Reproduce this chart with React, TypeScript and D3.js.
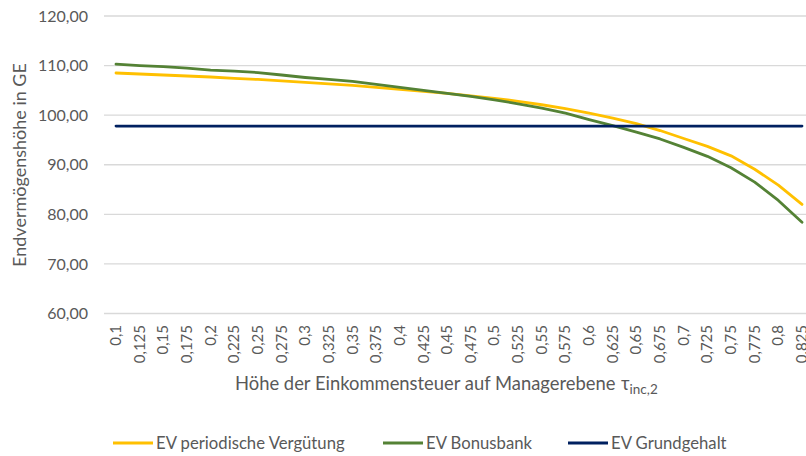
import React, { useLayoutEffect } from "react";
import * as d3 from "d3";

const categories: string[] = [
  "0,1", "0,125", "0,15", "0,175", "0,2", "0,225", "0,25", "0,275", "0,3", "0,325",
  "0,35", "0,375", "0,4", "0,425", "0,45", "0,475", "0,5", "0,525", "0,55", "0,575",
  "0,6", "0,625", "0,65", "0,675", "0,7", "0,725", "0,75", "0,775", "0,8", "0,825",
];

const evPeriodisch: number[] = [
  108.5, 108.3, 108.1, 107.9, 107.7, 107.4, 107.2, 106.9, 106.6, 106.3,
  106.0, 105.6, 105.2, 104.8, 104.4, 103.9, 103.4, 102.8, 102.1, 101.3,
  100.4, 99.4, 98.3, 96.9, 95.3, 93.7, 91.8, 89.1, 85.9, 82.0,
];

const evBonusbank: number[] = [
  110.3, 110.0, 109.8, 109.5, 109.1, 108.9, 108.6, 108.1, 107.6, 107.2,
  106.8, 106.2, 105.6, 105.0, 104.4, 103.8, 103.1, 102.3, 101.4, 100.4,
  99.1, 97.9, 96.6, 95.2, 93.5, 91.7, 89.4, 86.5, 82.8, 78.4,
];

const evGrundgehalt: number[] = categories.map(() => 97.8);

const yTicks: number[] = [60, 70, 80, 90, 100, 110, 120];

const seriesNames: string[] = ["EV periodische Vergütung", "EV Bonusbank", "EV Grundgehalt"];
const seriesColors: string[] = ["#FFC000", "#548235", "#002060"];

const W = 806;
const H = 456;
const FONT = "Lato, 'Open Sans', sans-serif";
const TEXT = "#595959";

export default function App() {
  useLayoutEffect(() => {
    document.body.style.margin = "0";
  }, []);

  const x = d3.scalePoint<string>().domain(categories).range([116, 802]);
  const y = d3.scaleLinear().domain([60, 120]).range([313.5, 16]);
  const fmt = (v: number) => d3.format(".2f")(v).replace(".", ",");

  const line = d3
    .line<number>()
    .x((_, i) => x(categories[i]) as number)
    .y((d) => y(d));

  const series = [evPeriodisch, evBonusbank, evGrundgehalt];

  const legendX = [113, 383, 568];

  return (
    <svg width={W} height={H} style={{ display: "block", background: "#fff" }} fontFamily={FONT}>
      {yTicks.map((t) => (
        <g key={t}>
          <line x1={104} x2={W} y1={y(t)} y2={y(t)} stroke="#d9d9d9" strokeWidth={1.3} />
          <text x={88} y={y(t)} dy="0.35em" textAnchor="end" fontSize={16} fill={TEXT}>
            {fmt(t)}
          </text>
        </g>
      ))}
      {series.map((s, i) => (
        <path
          key={i}
          d={line(s) || ""}
          fill="none"
          stroke={seriesColors[i]}
          strokeWidth={2.8}
          strokeLinejoin="round"
          strokeLinecap="round"
        />
      ))}
      {categories.map((c) => (
        <text
          key={c}
          transform={`translate(${(x(c) as number) + 5},325) rotate(-90)`}
          textAnchor="end"
          fontSize={15}
          fill={TEXT}
        >
          {c}
        </text>
      ))}
      <text
        transform="translate(26,165) rotate(-90)"
        textAnchor="middle"
        fontSize={18}
        fill={TEXT}
      >
        Endvermögenshöhe in GE
      </text>
      <text x={235} y={390} fontSize={18.4} fill={TEXT}>
        Höhe der Einkommensteuer auf Managerebene
        <tspan x={621}>τ</tspan>
        <tspan fontSize={13.5} dy={4}>inc,2</tspan>
      </text>
      {seriesNames.map((n, i) => (
        <g key={n}>
          <line
            x1={legendX[i]}
            x2={legendX[i] + 40}
            y1={443}
            y2={443}
            stroke={seriesColors[i]}
            strokeWidth={2.8}
          />
          <text x={legendX[i] + 43} y={443} dy="0.35em" fontSize={16.7} fill={TEXT}>
            {n}
          </text>
        </g>
      ))}
    </svg>
  );
}
